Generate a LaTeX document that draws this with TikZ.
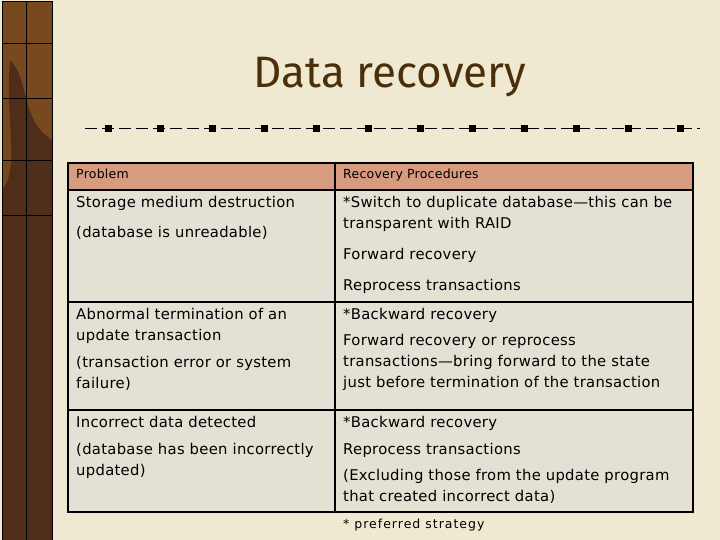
\documentclass[tikz,border=0pt]{standalone}
\usepackage{fontspec}
\setmainfont{DejaVu Sans}[LetterSpace=2]
\newfontfamily\titlefont{Fira Sans}
\begin{document}
\begin{tikzpicture}[x=1pt,y=-1pt,
  cell/.style={anchor=north west,inner sep=0pt,align=left,font=\fontsize{14.8}{21}\selectfont},
  hdr/.style={anchor=north west,inner sep=0pt,font=\fontsize{12.5}{14}\selectfont},
  grid/.style={line width=1.6pt,black}]
\useasboundingbox (0,0) rectangle (720,540);
\fill[color={rgb,255:red,238;green,233;blue,208}] (0,0) rectangle (720,540);
% binder strip
\fill[color={rgb,255:red,120;green,72;blue,30}] (2,2) rectangle (52,540);
\fill[color={rgb,255:red,80;green,45;blue,25}] (10,60) .. controls (30,80) and (20,120) .. (52,140) -- (52,540) -- (2,540) -- (2,190) .. controls (20,170) and (5,120) .. (10,60);
\draw[line width=1pt] (2,2) rectangle (52,540);
\draw[line width=0.5pt] (26,2) -- (26,540);
\foreach \y in {43,98,160,215} \draw[line width=0.5pt] (2,\y) -- (52,\y);
% title
\node[name=title,font=\titlefont\fontsize{44}{48}\selectfont,text={rgb,255:red,74;green,47;blue,10}] at (390,77) {Data recovery};
% divider
\draw[name=div,dash pattern=on 12pt off 5pt,line width=1pt] (85,129) -- (700,129);
\foreach \x in {108,160,212,264,316,368,420,472,524,576,628,680}
  \fill (\x-3.5,125.5) rectangle (\x+3.5,132.5);
% table
\fill[color={rgb,255:red,215;green,156;blue,128}] (68,163) rectangle (693,190);
\fill[color={rgb,255:red,229;green,224;blue,212}] (68,190) rectangle (693,512);
\draw[grid] (68,163) rectangle (693,512);
\draw[grid] (335,163) -- (335,512);
\draw[grid] (68,190) -- (693,190);
\draw[grid] (68,302) -- (693,302);
\draw[grid] (68,410) -- (693,410);
\node[hdr] (h1) at (76,169) {Problem};
\node[hdr] (h2) at (343,169) {Recovery Procedures};
\node[cell] (a1) at (76,196) {Storage medium destruction};
\node[cell] (a2) at (76,226) {(database is unreadable)};
\node[cell] (b1) at (343,196) {*Switch to duplicate database\textemdash this can be\\transparent with RAID};
\node[cell] (b2) at (343,248) {Forward recovery};
\node[cell] (b3) at (343,279) {Reprocess transactions};
\node[cell] (c1) at (76,308) {Abnormal termination of an\\update transaction};
\node[cell] (c2) at (76,356) {(transaction error or system\\failure)};
\node[cell] (d1) at (343,308) {*Backward recovery};
\node[cell] (d2) at (343,334) {Forward recovery or reprocess\\transactions\textemdash bring forward to the state\\just before termination of the transaction};
\node[cell] (e1) at (76,416) {Incorrect data detected};
\node[cell] (e2) at (76,443) {(database has been incorrectly\\updated)};
\node[cell] (f1) at (343,416) {*Backward recovery};
\node[cell] (f2) at (343,443) {Reprocess transactions};
\node[cell] (f3) at (343,469) {(Excluding those from the update program\\that created incorrect data)};
\node[hdr,font=\fontsize{12.5}{14}\selectfont\addfontfeatures{LetterSpace=8}] (note) at (343,519) {* preferred strategy};
\end{tikzpicture}
\end{document}
